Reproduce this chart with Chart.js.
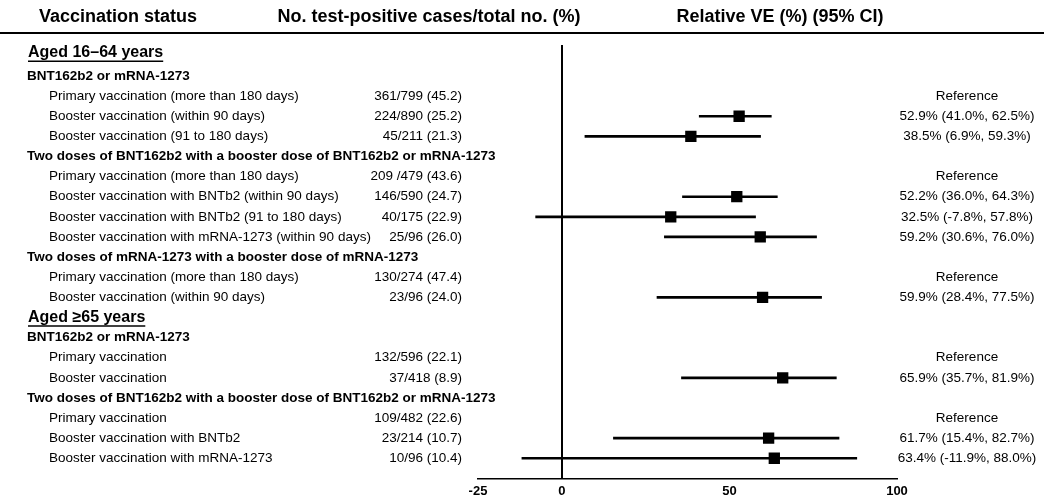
<!DOCTYPE html>
<html>
<head>
<meta charset="utf-8">
<script src="https://cdn.jsdelivr.net/npm/chart.js@4/dist/chart.umd.min.js"></script>
<style>
html,body{margin:0;padding:0;background:#fff;}
#wrap{width:1044px;height:504px;}
</style>
</head>
<body>
<div id="wrap"><canvas id="c" width="1044" height="504"></canvas></div>
<script>
// ---- data ----
const headers = ["Vaccination status", "No. test-positive cases/total no. (%)", "Relative VE (%) (95% CI)"];
const rowLabels = [
  "Aged 16–64 years",
  "BNT162b2 or mRNA-1273",
  "Primary vaccination (more than 180 days)",
  "Booster vaccination (within 90 days)",
  "Booster vaccination (91 to 180 days)",
  "Two doses of BNT162b2 with a booster dose of BNT162b2 or mRNA-1273",
  "Primary vaccination (more than 180 days)",
  "Booster vaccination with BNTb2 (within 90 days)",
  "Booster vaccination with BNTb2 (91 to 180 days)",
  "Booster vaccination with mRNA-1273 (within 90 days)",
  "Two doses of mRNA-1273 with a booster dose of mRNA-1273",
  "Primary vaccination (more than 180 days)",
  "Booster vaccination (within 90 days)",
  "Aged ≥65 years",
  "BNT162b2 or mRNA-1273",
  "Primary vaccination",
  "Booster vaccination",
  "Two doses of BNT162b2 with a booster dose of BNT162b2 or mRNA-1273",
  "Primary vaccination",
  "Booster vaccination with BNTb2",
  "Booster vaccination with mRNA-1273"
];
const rowLevels = [0,1,2,2,2,1,2,2,2,2,1,2,2,0,1,2,2,1,2,2,2];
const cases = ["", "", "361/799 (45.2)", "224/890 (25.2)", "45/211 (21.3)", "",
  "209 /479 (43.6)", "146/590 (24.7)", "40/175 (22.9)", "25/96 (26.0)", "",
  "130/274 (47.4)", "23/96 (24.0)", "", "", "132/596 (22.1)", "37/418 (8.9)", "",
  "109/482 (22.6)", "23/214 (10.7)", "10/96 (10.4)"];
const isReference = [false,false,true,false,false,false,true,false,false,false,false,true,false,false,false,true,false,false,true,false,false];
const ve    = [null,null,null,52.9,38.5,null,null,52.2,32.5,59.2,null,null,59.9,null,null,null,65.9,null,null,61.7,63.4];
const ciLow = [null,null,null,41.0, 6.9,null,null,36.0,-7.8,30.6,null,null,28.4,null,null,null,35.7,null,null,15.4,-11.9];
const ciHigh= [null,null,null,62.5,59.3,null,null,64.3,57.8,76.0,null,null,77.5,null,null,null,81.9,null,null,82.7,88.0];
const xTicks = [-25, 0, 50, 100];

// ---- chart ----
const FONT = "'Liberation Sans', Arial, sans-serif";
const whiskerData = [], pointData = [];
ve.forEach((v, i) => {
  if (v !== null) {
    whiskerData.push({x: [ciLow[i], ciHigh[i]], y: i});
    pointData.push({x: v, y: i});
  }
});

const tablePlugin = {
  id: 'table',
  afterDraw(chart) {
    const ctx = chart.ctx;
    const ys = chart.scales.y;
    ctx.save();
    ctx.fillStyle = '#000';
    ctx.strokeStyle = '#000';
    // header
    ctx.font = "bold 18px " + FONT;
    ctx.textBaseline = 'middle';
    ctx.textAlign = 'center';
    ctx.fillText(headers[0], 118, 17);
    ctx.fillText(headers[1], 429, 17);
    ctx.fillText(headers[2], 780, 17);
    ctx.lineWidth = 2;
    ctx.beginPath();
    ctx.moveTo(0, 33);
    ctx.lineTo(1044, 33);
    ctx.stroke();
    // rows
    rowLabels.forEach((lab, i) => {
      let y = ys.getPixelForValue(i);
      const lvl = rowLevels[i];
      ctx.textAlign = 'left';
      if (lvl === 0) {
        if (i === 0) y -= 3;
        ctx.font = "bold 16px " + FONT;
        ctx.fillText(lab, 28, y);
        const w = ctx.measureText(lab).width;
        ctx.lineWidth = 1.5;
        ctx.beginPath();
        ctx.moveTo(28, y + 8.5);
        ctx.lineTo(28 + w, y + 8.5);
        ctx.stroke();
      } else if (lvl === 1) {
        ctx.font = "bold 13.5px " + FONT;
        ctx.fillText(lab, 27, y);
      } else {
        ctx.font = "13.5px " + FONT;
        ctx.fillText(lab, 49, y);
      }
      ctx.font = "13.5px " + FONT;
      if (cases[i]) {
        ctx.textAlign = 'right';
        ctx.fillText(cases[i], 462, y);
      }
      let t = null;
      if (isReference[i]) t = "Reference";
      else if (ve[i] !== null) t = ve[i].toFixed(1) + "% (" + ciLow[i].toFixed(1) + "%, " + ciHigh[i].toFixed(1) + "%)";
      if (t) {
        ctx.textAlign = 'center';
        ctx.fillText(t, 967, y);
      }
    });
    ctx.restore();
  }
};

new Chart(document.getElementById('c'), {
  type: 'scatter',
  data: {
    datasets: [
      {
        type: 'bar',
        indexAxis: 'y',
        data: whiskerData,
        backgroundColor: '#000',
        borderWidth: 0,
        barThickness: 2,
        order: 2
      },
      {
        type: 'scatter',
        data: pointData,
        pointStyle: 'rect',
        pointRadius: 8,
        pointHoverRadius: 8,
        backgroundColor: '#000',
        borderColor: '#000',
        borderWidth: 0,
        order: 1
      }
    ]
  },
  plugins: [tablePlugin],
  options: {
    responsive: false,
    animation: false,
    devicePixelRatio: 1,
    datasets: { bar: { indexAxis: 'y' } },
    layout: { padding: { left: 478, right: 147, top: 45, bottom: 0 } },
    plugins: { legend: { display: false }, tooltip: { enabled: false } },
    scales: {
      x: {
        type: 'linear',
        min: -25, max: 100,
        offset: false,
        afterBuildTicks: (s) => { s.ticks = xTicks.map(v => ({value: v})); },
        grid: {
          display: true,
          drawTicks: false,
          offset: false,
          lineWidth: 2,
          color: (c) => (c.tick && c.tick.value === 0) ? '#000' : 'rgba(0,0,0,0)'
        },
        border: { display: true, color: '#000', width: 1.5 },
        ticks: {
          padding: 5,
          color: '#000',
          font: { family: FONT, size: 13, weight: 'bold' },
          maxRotation: 0,
          autoSkip: false
        }
      },
      y: {
        type: 'linear',
        reverse: true,
        min: -0.54, max: 21.0,
        offset: false,
        display: false,
        grid: { display: false, offset: false }
      }
    }
  }
});
</script>
</body>
</html>
